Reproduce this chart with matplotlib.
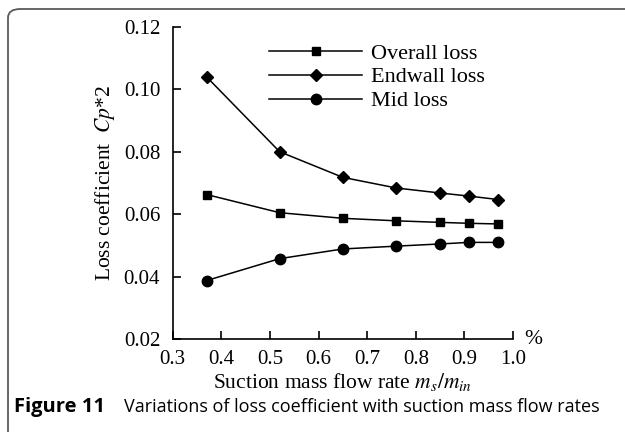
import matplotlib
matplotlib.use("Agg")
import matplotlib.pyplot as plt
from matplotlib.patches import FancyBboxPatch

# suction mass flow rate (%)
flow_rate = [0.37, 0.52, 0.65, 0.76, 0.85, 0.91, 0.97]
overall_loss = [0.0663, 0.0605, 0.0587, 0.0579, 0.0574, 0.0571, 0.0569]
endwall_loss = [0.1039, 0.0800, 0.0718, 0.0684, 0.0668, 0.0658, 0.0647]
mid_loss = [0.0388, 0.0458, 0.0489, 0.0498, 0.0505, 0.0510, 0.0510]

xticks = [0.3, 0.4, 0.5, 0.6, 0.7, 0.8, 0.9, 1.0]
yticks = [0.02, 0.04, 0.06, 0.08, 0.10, 0.12]

plt.rcParams['font.family'] = 'Liberation Serif'
plt.rcParams['mathtext.fontset'] = 'stix'

fig = plt.figure(figsize=(6.25, 4.32), dpi=100)
ax = fig.add_axes([0.2763, 0.2146, 0.5445, 0.7236])

ax.plot(flow_rate, overall_loss, color='black', lw=1.1, marker='s', ms=5.5, label='Overall loss')
ax.plot(flow_rate, endwall_loss, color='black', lw=1.1, marker='D', ms=5.8, label='Endwall loss')
ax.plot(flow_rate, mid_loss, color='black', lw=1.1, marker='o', ms=7.5, label='Mid loss')

ax.set_xlim(0.3, 1.0)
ax.set_ylim(0.02, 0.12)
ax.set_xticks(xticks)
ax.set_xticklabels(['%.1f' % v for v in xticks])
ax.set_yticks(yticks)
ax.set_yticklabels(['%.2f' % v for v in yticks])
ax.tick_params(direction='in', length=6, width=1.2, labelsize=15)
ax.tick_params(axis='x', pad=8)
ax.tick_params(axis='y', pad=9)
ax.spines['top'].set_visible(False)
ax.spines['right'].set_visible(False)
for s in ['left', 'bottom']:
    ax.spines[s].set_linewidth(1.2)

ax.set_ylabel('Loss coefficient  $Cp$*2', fontsize=15.5, labelpad=5)
ax.set_xlabel('Suction mass flow rate $m_s/m_{in}$', fontsize=15.5, labelpad=1)
ax.text(1.06, 0.0, '%', transform=ax.transAxes, fontsize=15.5, ha='center', va='center')

ax.legend(loc='upper left', bbox_to_anchor=(0.283, 0.948), frameon=False, fontsize=16,
          handlelength=4.2, handletextpad=0.4, labelspacing=0.15, borderpad=0, borderaxespad=0)

# caption
fig.text(0.0224, 0.058, 'Figure 11', fontsize=14.5, fontweight='bold', family='Open Sans', va='center')
fig.text(0.198, 0.058, 'Variations of loss coefficient with suction mass flow rates',
         fontsize=13, family='Open Sans', va='center')

# rounded frame
frame = FancyBboxPatch((8 / 625, -0.2), 1.2, 1.2 - 9 / 432,
                       boxstyle='round,pad=0,rounding_size=0.02', transform=fig.transFigure,
                       fill=False, edgecolor='#5a5a5a', lw=1.3)
fig.patches.append(frame)

fig.savefig('out.png', dpi=100)
